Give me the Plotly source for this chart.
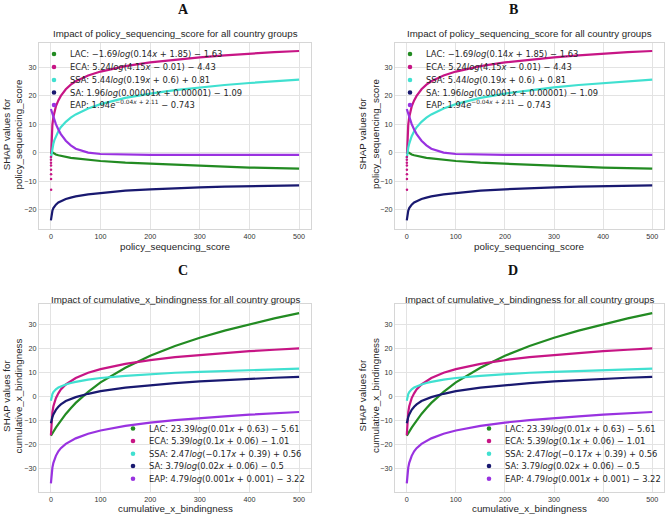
import plotly.graph_objects as go

W, H = 668, 514

# ---------------- data ----------------
groups = ["LAC", "ECA", "SSA", "SA", "EAP"]
colors = {"LAC": "#228B22", "ECA": "#C71585", "SSA": "#40E0D0",
          "SA": "#191970", "EAP": "#9932E0"}

# Panel A/B : policy_sequencing_score
x_policy = [0, 1, 2, 3, 5, 7, 10, 15, 20, 30, 40, 50, 75, 100, 150, 200,
            250, 300, 350, 400, 450, 500]
x_policy_eca = [0.5, 1, 2, 3, 5, 7, 10, 15, 20, 30, 40, 50, 75, 100, 150, 200,
                250, 300, 350, 400, 450, 500]
lac_policy = [0.4, 0.3, 0.15, 0.0, -0.2, -0.4, -0.6, -0.9, -1.1, -1.5, -1.8, -2.0,
              -2.5, -2.9, -3.5, -3.9, -4.3, -4.6, -4.9, -5.2, -5.4, -5.6]
eca_policy = [-0.5, 3.5, 7.5, 9.8, 12.5, 14.3, 16.2, 18.3, 19.9, 22.2, 23.8, 25.0,
              27.0, 28.4, 30.3, 31.6, 32.6, 33.4, 34.1, 34.7, 35.2, 35.6]
eca_policy_dots_x = [0.05, 0.1, 0.15, 0.2, 0.25, 0.3, 0.35, 0.4]
eca_policy_dots_y = [-1.5, -2.5, -3.5, -4.5, -6.0, -7.5, -9.2, -13.0]
ssa_policy = [-2.0, -0.5, 0.7, 1.7, 3.2, 4.4, 5.8, 7.5, 8.9, 10.8, 12.3, 13.4,
              15.5, 17.0, 19.2, 20.7, 21.9, 22.9, 23.7, 24.4, 25.0, 25.6]
sa_policy = [-23.7, -22.0, -21.0, -20.3, -19.4, -18.8, -18.2, -17.4, -16.9, -16.2,
             -15.7, -15.3, -14.6, -14.1, -13.3, -12.8, -12.4, -12.1, -11.9, -11.7,
             -11.6, -11.4]
eap_policy = [15.3, 14.7, 14.1, 13.5, 12.4, 11.4, 10.0, 8.1, 6.5, 4.2, 2.6, 1.4,
              0.05, -0.45, -0.70, -0.74, -0.75, -0.75, -0.75, -0.75, -0.75, -0.75]

# Panel C/D : cumulative_x_bindingness
x_bind = [0, 1, 2, 3, 5, 7, 10, 15, 20, 30, 40, 50, 75, 100, 150, 200,
          250, 300, 350, 400, 450, 500]
lac_bind = [-16.4, -16.0, -15.6, -15.3, -14.6, -14.0, -13.0, -11.6, -10.0, -7.3,
            -4.9, -2.7, 1.9, 5.9, 12.0, 17.0, 21.1, 24.5, 27.5, 30.2, 32.6, 34.8]
eca_bind = [-16.2, -10.9, -8.3, -6.6, -4.1, -2.4, -0.7, 1.3, 2.9, 5.0, 6.5, 7.7,
            9.9, 11.4, 13.6, 15.2, 16.4, 17.3, 18.2, 18.9, 19.5, 20.1]
ssa_bind = [-1.8, -0.5, 0.4, 1.0, 1.8, 2.4, 3.0, 3.7, 4.2, 5.0, 5.6, 6.1,
            7.0, 7.7, 8.6, 9.3, 9.9, 10.3, 10.7, 11.0, 11.3, 11.6]
sa_bind = [-11.2, -10.0, -9.2, -8.6, -7.5, -6.7, -5.6, -4.3, -3.3, -1.9, -1.0, -0.3,
           1.1, 2.2, 3.7, 4.8, 5.6, 6.3, 6.9, 7.4, 7.8, 8.2]
eap_bind = [-36.3, -33.0, -31.0, -29.7, -27.7, -26.4, -24.8, -22.9, -21.6, -19.8,
            -18.5, -17.5, -15.6, -14.2, -12.3, -10.9, -9.9, -9.0, -8.3, -7.6, -7.0, -6.5]

legend_policy = [
    "LAC: \u22121.69<i>log</i>(0.14<i>x</i> + 1.85) \u2212 1.63",
    "ECA: 5.24<i>log</i>(4.15<i>x</i> \u2212 0.01) \u2212 4.43",
    "SSA: 5.44<i>log</i>(0.19<i>x</i> + 0.6) + 0.81",
    "SA: 1.96<i>log</i>(0.00001<i>x</i> + 0.00001) \u2212 1.09",
    "EAP: 1.94<i>e</i><sup>\u22120.04<i>x</i> + 2.11</sup> \u2212 0.743",
]
legend_bind = [
    "LAC: 23.39<i>log</i>(0.01<i>x</i> + 0.63) \u2212 5.61",
    "ECA: 5.39<i>log</i>(0.1<i>x</i> + 0.06) \u2212 1.01",
    "SSA: 2.47<i>log</i>(\u22120.17<i>x</i> + 0.39) + 0.56",
    "SA: 3.79<i>log</i>(0.02<i>x</i> + 0.06) \u2212 0.5",
    "EAP: 4.79<i>log</i>(0.001<i>x</i> + 0.001) \u2212 3.22",
]

panel_letters = ["A", "B", "C", "D"]
title_policy = "Impact of policy_sequencing_score for all country groups"
title_bind = "Impact of cumulative_x_bindingness for all country groups"
xlabel_policy = "policy_sequencing_score"
xlabel_bind = "cumulative_x_bindingness"
ylabel_policy = "SHAP values for<br>policy_sequencing_score"
ylabel_bind = "SHAP values for<br>cumulative_x_bindingness"

# ---------------- layout helpers ----------------
def px(x):
    return x / W

def py(y):
    return 1 - y / H

FONT = "Liberation Sans, Arial, sans-serif"
LEGFONT = "DejaVu Sans, sans-serif"

# panel boxes in pixels: (left, right, top, bottom)
boxes = {
    "A": (39, 311, 43, 229),
    "B": (395, 664, 43, 229),
    "C": (39, 311, 304, 492),
    "D": (395, 664, 304, 492),
}

fig = go.Figure()

panels = [
    ("A", "x", "y", x_policy, [lac_policy, eca_policy, ssa_policy, sa_policy, eap_policy], True),
    ("B", "x2", "y2", x_policy, [lac_policy, eca_policy, ssa_policy, sa_policy, eap_policy], True),
    ("C", "x3", "y3", x_bind, [lac_bind, eca_bind, ssa_bind, sa_bind, eap_bind], False),
    ("D", "x4", "y4", x_bind, [lac_bind, eca_bind, ssa_bind, sa_bind, eap_bind], False),
]

for name, xa, ya, xs, series, is_policy in panels:
    for g, ys in zip(groups, series):
        xx = x_policy_eca if (is_policy and g == "ECA") else xs
        fig.add_trace(go.Scatter(x=xx, y=ys, mode="lines", name=g, showlegend=False,
                                 line=dict(color=colors[g], width=2.2),
                                 xaxis=xa, yaxis=ya, hoverinfo="skip"))
    if is_policy:
        fig.add_trace(go.Scatter(x=eca_policy_dots_x, y=eca_policy_dots_y, mode="markers",
                                 showlegend=False,
                                 marker=dict(color=colors["ECA"], size=2.5),
                                 xaxis=xa, yaxis=ya, hoverinfo="skip"))

axis_common = dict(showgrid=True, gridcolor="#e3e3e3", gridwidth=1, zeroline=False,
                   showline=True, mirror=True, linecolor="#d6d6d6", linewidth=1,
                   ticks="", tickfont=dict(family=FONT, size=7.2, color="#333333"))

layout_axes = {}
for i, (name, xa, ya, xs, series, is_policy) in enumerate(panels):
    l, r, t, b = boxes[name]
    suffix = "" if i == 0 else str(i + 1)
    yr = [-26.7, 38.4] if is_policy else [-39.9, 38.6]
    layout_axes["xaxis" + suffix] = dict(domain=[px(l), px(r)], range=[-24, 524],
                                         tickvals=[0, 100, 200, 300, 400, 500],
                                         anchor="y" + suffix, **axis_common)
    layout_axes["yaxis" + suffix] = dict(domain=[py(b), py(t)], range=yr,
                                         dtick=10, anchor="x" + suffix, **axis_common)

fig.update_layout(width=W, height=H, margin=dict(l=0, r=0, t=0, b=0),
                  paper_bgcolor="white", plot_bgcolor="white",
                  showlegend=False, **layout_axes)

ann = []
shapes = []

def text(x, y, s, size, color="#262626", family=FONT, xanchor="center", angle=0):
    ann.append(dict(x=px(x), y=py(y), xref="paper", yref="paper", text=s,
                    showarrow=False, xanchor=xanchor, yanchor="middle", borderpad=0,
                    textangle=angle, font=dict(family=family, size=size, color=color)))

# panel letters
letter_pos = {"A": (183, 9), "B": (513, 9), "C": (183, 270), "D": (513, 270)}
for L in panel_letters:
    text(letter_pos[L][0], letter_pos[L][1],
         "<b>" + L + "</b>", 14, color="#111111",
         family="Liberation Serif, Times New Roman, serif")

# subplot titles, axis titles, legends
title_y = {"A": 34, "B": 34, "C": 299, "D": 299}
xlab_y = {"A": 246.5, "B": 246.5, "C": 508, "D": 508}
ylab_x = {"A": 12.5, "B": 369, "C": 12.5, "D": 369}
leg_dot_x = {"A": 54, "B": 410, "C": 133, "D": 489}
leg_rows = {"A": [54, 67, 80, 92.5, 105], "B": [54, 67, 80, 92.5, 105],
            "C": [428.5, 441, 453.7, 466, 478.7], "D": [428.5, 441, 453.7, 466, 478.7]}

for name, xa, ya, xs, series, is_policy in panels:
    l, r, t, b = boxes[name]
    cx = (l + r) / 2
    text(cx, title_y[name], title_policy if is_policy else title_bind, 9.7)
    text(cx, xlab_y[name], xlabel_policy if is_policy else xlabel_bind, 9.8)
    text(ylab_x[name], (t + b) / 2 - 2, ylabel_policy if is_policy else ylabel_bind,
         9.8, angle=-90)
    labels = legend_policy if is_policy else legend_bind
    for g, lab, ry in zip(groups, labels, leg_rows[name]):
        dx = leg_dot_x[name]
        shapes.append(dict(type="circle", xref="paper", yref="paper",
                           x0=px(dx - 2.3), x1=px(dx + 2.3), y0=py(ry + 2.3), y1=py(ry - 2.3),
                           fillcolor=colors[g], line=dict(width=0)))
        text(dx + 15, ry, lab, 8.4, xanchor="left", family=LEGFONT)

fig.update_layout(annotations=ann, shapes=shapes)
fig.write_html("out.html")
